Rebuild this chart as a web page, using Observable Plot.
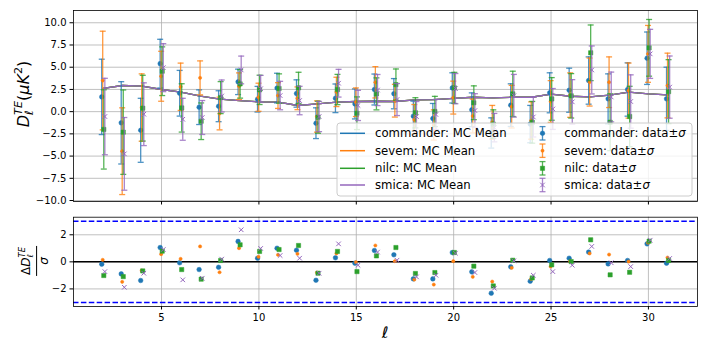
<!DOCTYPE html>
<html><head><meta charset="utf-8">
<script src="https://cdn.jsdelivr.net/npm/d3@7"></script>
<script src="https://cdn.jsdelivr.net/npm/@observablehq/plot@0.6"></script>
<style>
body{margin:0;background:#fff;}
#wrap{position:relative;width:708px;height:354px;font-family:"DejaVu Sans",sans-serif;color:#000;overflow:hidden;}
#wrap svg{position:absolute;left:0;overflow:visible;}
.rot{position:absolute;white-space:nowrap;transform:translate(-50%,-50%) rotate(-90deg);line-height:1;}
.ss{display:inline-flex;flex-direction:column;font-size:0.7em;line-height:1;vertical-align:0.6em;}
.frac{display:inline-flex;flex-direction:column;align-items:center;}
.frac .num{border-bottom:1px solid #000;padding:0 1px 1px 1px;}
.frac .den{padding-top:1px;}
</style></head><body><div id="wrap"></div>
<script>
// ---- data ----
const ells = [2,3,4,5,6,7,8,9,10,11,12,13,14,15,16,17,18,19,20,21,22,23,24,25,26,27,28,29,30,31];
const mcMean = [2.62,2.94,2.86,2.49,2.19,1.74,1.4,1.25,1.1,1.06,0.69,0.88,1.06,1.14,1.17,1.14,1.33,1.36,1.5,1.62,1.55,1.62,1.62,1.96,1.73,1.66,1.85,2.19,2.0,1.89];

const commanderVal = [1.66,-1.26,-2.1,5.4,2.07,0.5,0.61,3.35,1.4,2.65,2.04,-1.3,1.5,0.87,2.49,2.02,-0.51,-0.77,2.67,0.21,-2.4,0.73,-1.4,2.12,2.41,3.5,1.44,2.49,6.01,1.44];
const commanderSig = [4.24,4.63,3.6,2.74,2.57,1.95,1.74,1.43,1.44,1.67,1.54,1.73,1.61,1.69,1.74,1.7,1.69,1.69,1.7,1.9,1.7,2.4,2.1,2.25,2.48,2.66,2.81,3.0,2.95,3.56];
const commanderRes = [-0.17,-0.89,-1.38,1.06,-0.07,-0.57,-0.4,1.51,0.27,1.01,0.86,-1.36,0.3,-0.1,0.84,0.52,-1.26,-1.26,0.69,-0.74,-2.32,-0.37,-1.43,0.1,0.27,0.72,-0.15,0.1,1.33,-0.1];

const sevemVal = [3.5,-4.45,0.46,3.98,2.8,3.8,-0.21,2.86,1.62,1.81,1.5,-0.55,2.22,1.06,3.3,1.23,-0.9,-1.5,1.58,-0.49,-1.2,0.56,-1.0,1.14,1.86,3.33,3.31,2.37,6.5,2.94];
const sevemSig = [5.55,4.88,3.79,2.81,2.66,1.91,1.84,1.5,1.58,1.45,1.28,1.76,1.65,1.61,1.76,1.84,1.7,1.7,1.85,1.9,1.9,2.4,2.1,2.35,2.5,2.7,2.85,3.1,3.2,3.64];
const sevemRes = [0.15,-1.48,-0.64,0.57,0.22,1.14,-0.77,1.01,0.37,0.52,0.59,-0.79,0.62,-0.02,1.21,0.05,-1.31,-1.68,0.05,-1.11,-1.46,-0.44,-1.26,-0.35,0.05,0.62,0.54,0.02,1.41,0.32];

const nilcVal = [-2.0,-2.31,0.39,4.55,0.42,-1.08,1.58,3.12,2.45,2.6,2.67,-0.63,2.49,-0.18,2.0,3.04,-0.13,0.02,2.67,1.0,-1.4,2.0,-1.2,1.43,1.78,6.62,-1.19,-0.55,7.18,2.25];
const nilcSig = [4.46,4.75,3.7,2.74,2.72,2.06,1.8,1.6,1.65,1.65,1.76,1.8,1.7,1.84,1.8,1.76,1.7,1.7,1.75,1.9,1.6,2.55,2.35,2.4,2.5,3.13,3.2,3.4,3.19,3.6];
const nilcRes = [-1.01,-1.09,-0.67,0.79,-0.57,-1.28,0.1,1.26,0.77,0.91,1.21,-0.84,0.77,-0.72,0.44,1.06,-0.86,-0.79,0.69,-0.32,-1.78,0.12,-1.19,-0.22,0.02,1.63,-0.96,-0.77,1.53,0.1];

const smicaVal = [-0.55,-4.75,-0.29,4.95,-0.86,-0.66,1.76,4.69,2.58,1.81,1.25,-0.55,3.2,0.7,2.43,1.36,-0.56,-0.32,2.59,0.12,-1.8,1.79,-0.6,0.3,1.1,4.69,1.65,1.14,6.5,2.76];
const smicaSig = [4.3,4.09,3.53,2.7,2.36,1.91,1.8,1.56,1.5,1.6,1.6,1.7,1.56,1.7,1.75,1.8,1.7,1.7,1.7,1.9,1.6,2.4,2.25,2.3,2.5,2.7,2.8,3.0,2.76,3.5];
const smicaRes = [-0.72,-1.88,-0.84,0.91,-1.33,-1.21,0.2,2.37,0.99,0.47,0.27,-0.84,1.33,-0.25,0.72,0.12,-1.11,-0.99,0.64,-0.79,-1.95,0.07,-0.99,-0.72,-0.25,1.14,-0.07,-0.35,1.6,0.25];

const seriesNames = ["commander","sevem","nilc","smica"];
const topTicks = [-10,-7.5,-5,-2.5,0,2.5,5,7.5,10];
const resTicks = [-2,0,2];
const xTicks = [5,10,15,20,25,30];
const sigmaBounds = [-3,3];

// ---- styling ----
const colors = {commander:"#1f77b4", sevem:"#ff7f0e", nilc:"#2ca02c", smica:"#9467bd"};
const offsets = {commander:-0.07, sevem:-0.02, nilc:0.035, smica:0.09};
const markerSpec = {
  commander:{symbol:"circle", r:2.3, filled:true},
  sevem:{symbol:"circle", r:1.6, filled:true},
  nilc:{symbol:"square", r:2.4, filled:true},
  smica:{symbol:"times", r:2.2, filled:false}
};
const src = {
  commander:[commanderVal,commanderSig,commanderRes],
  sevem:[sevemVal,sevemSig,sevemRes],
  nilc:[nilcVal,nilcSig,nilcRes],
  smica:[smicaVal,smicaSig,smicaRes]
};
const cap = {draw(ctx){ ctx.moveTo(-3,0); ctx.lineTo(3,0); }};
const rows = {};
for (const s of seriesNames) {
  const [v, sg, rs] = src[s];
  rows[s] = ells.map((l,i)=>({l: l + offsets[s], v: v[i], lo: v[i]-sg[i], hi: v[i]+sg[i], res: rs[i]}));
}
const meanRows = ells.map((l,i)=>({l, m: mcMean[i]}));
const xDomain = [0.48, 32.52];
const gridStyle = {stroke:"#b0b0b0", strokeOpacity:1, strokeWidth:0.8};
const common = {fontFamily:"DejaVu Sans", fontSize:"10px", color:"black", background:"transparent", overflow:"visible"};

function markerMark(data, s, yField) {
  const m = markerSpec[s];
  return Plot.dot(data, {x:"l", y:yField, symbol:m.symbol, r:m.r,
    fill: m.filled ? colors[s] : "none", stroke: colors[s], strokeWidth: m.filled ? 0.5 : 1});
}

// ---- top panel ----
const topMarks = [
  Plot.gridX({ticks: xTicks, ...gridStyle}),
  Plot.gridY({ticks: topTicks, ...gridStyle}),
  Plot.axisX({ticks: xTicks, tickFormat: () => "", tickSize: 3.5, label: null}),
  Plot.axisY({ticks: topTicks, tickFormat: d3.format(".1f"), tickSize: 3.5, tickPadding: 3.5, label: null})
];
for (const s of seriesNames) topMarks.push(Plot.line(meanRows, {x:"l", y:"m", stroke: colors[s], strokeWidth:1.3}));
for (const s of seriesNames) {
  topMarks.push(Plot.ruleX(rows[s], {x:"l", y1:"lo", y2:"hi", stroke: colors[s], strokeOpacity:0.8, strokeWidth:1.3}));
  topMarks.push(Plot.dot(rows[s], {x:"l", y:"lo", symbol: cap, fill:"none", stroke: colors[s], strokeOpacity:0.8, strokeWidth:1.3}));
  topMarks.push(Plot.dot(rows[s], {x:"l", y:"hi", symbol: cap, fill:"none", stroke: colors[s], strokeOpacity:0.8, strokeWidth:1.3}));
  topMarks.push(markerMark(rows[s], s, "v"));
}
topMarks.push(Plot.frame({stroke:"black", strokeWidth:0.8}));

const topSvg = Plot.plot({
  width:708, height:205, marginLeft:73, marginRight:11, marginTop:10, marginBottom:4,
  x:{domain:xDomain}, y:{domain:[-10.11, 11.38]},
  style: common,
  marks: topMarks
});
topSvg.style.top = "0px";

// ---- bottom panel ----
const botMarks = [
  Plot.gridX({ticks: xTicks, ...gridStyle}),
  Plot.gridY({ticks: resTicks, ...gridStyle}),
  Plot.axisX({ticks: xTicks, tickSize: 3.5, tickPadding: 3.5, label: null}),
  Plot.axisY({ticks: resTicks, tickFormat: d3.format("d"), tickSize: 3.5, tickPadding: 3.5, label: null}),
  Plot.ruleY(sigmaBounds, {stroke:"#0000ff", strokeWidth:1.5, strokeDasharray:"5.5,2.4"}),
  Plot.ruleY([0], {stroke:"black", strokeWidth:1.5})
];
for (const s of seriesNames) botMarks.push(markerMark(rows[s], s, "res"));
botMarks.push(Plot.frame({stroke:"black", strokeWidth:0.8}));

const botSvg = Plot.plot({
  width:708, height:149, marginLeft:73, marginRight:11, marginTop:11.7, marginBottom:48,
  x:{domain:xDomain}, y:{domain:[-3.3, 3.3]},
  style: common,
  marks: botMarks
});
botSvg.style.top = "205px";

const wrap = document.getElementById("wrap");
wrap.appendChild(topSvg);
wrap.appendChild(botSvg);

// ---- legend (inside top panel, lower right) ----
const lg = d3.select(topSvg).append("g").attr("font-family","DejaVu Sans").attr("font-size",11.7)
  .attr("fill","black").attr("text-anchor","start");
lg.append("rect").attr("x",337).attr("y",123).attr("width",355).attr("height",73).attr("rx",3)
  .attr("fill","white").attr("fill-opacity",0.8).attr("stroke","#cccccc").attr("stroke-width",1);
const rowY = [133.3,150.7,168.3,185];
const symMap = {circle:d3.symbolCircle, square:d3.symbolSquare, times:d3.symbolTimes};
seriesNames.forEach((s,i)=>{
  const y = rowY[i], c = colors[s];
  lg.append("line").attr("x1",340).attr("x2",365).attr("y1",y).attr("y2",y).attr("stroke",c).attr("stroke-width",1.5);
  lg.append("text").attr("x",375).attr("y",y).attr("dy","0.35em").text(`${s}: MC Mean`);
  const ix = 542.5;
  lg.append("line").attr("x1",ix).attr("x2",ix).attr("y1",y-6.7).attr("y2",y+6.7).attr("stroke",c).attr("stroke-opacity",0.8).attr("stroke-width",1.3);
  lg.append("line").attr("x1",ix-3).attr("x2",ix+3).attr("y1",y-6.7).attr("y2",y-6.7).attr("stroke",c).attr("stroke-opacity",0.8).attr("stroke-width",1.3);
  lg.append("line").attr("x1",ix-3).attr("x2",ix+3).attr("y1",y+6.7).attr("y2",y+6.7).attr("stroke",c).attr("stroke-opacity",0.8).attr("stroke-width",1.3);
  const m = markerSpec[s];
  lg.append("path").attr("transform",`translate(${ix},${y})`)
    .attr("d", d3.symbol(symMap[m.symbol], Math.PI*m.r*m.r)())
    .attr("fill", m.filled ? c : "none").attr("stroke", c).attr("stroke-width", m.filled ? 0.5 : 1);
  const t = lg.append("text").attr("x",564.3).attr("y",y).attr("dy","0.35em");
  t.append("tspan").text(`${s}: data±`);
  t.append("tspan").attr("font-style","italic").text("σ");
});

// ---- axis labels (HTML, real text) ----
const yl1 = document.createElement("div");
yl1.className = "rot";
yl1.style.cssText += "left:24px;top:94px;font-size:16px;";
yl1.innerHTML = '<i>D</i><span class="ss"><i>TE</i><i>ℓ</i></span>(<i>μK</i><sup style="font-size:0.7em">2</sup>)';
wrap.appendChild(yl1);

const yl2 = document.createElement("div");
yl2.className = "rot";
yl2.style.cssText += "left:34px;top:261px;font-size:12px;";
yl2.innerHTML = '<span class="frac"><span class="num">Δ<i>D</i><span class="ss"><i>TE</i><i>ℓ</i></span></span><span class="den"><i>σ</i></span></span>';
wrap.appendChild(yl2);

const xl = document.createElement("div");
xl.style.cssText = "position:absolute;left:385px;top:333px;transform:translate(-50%,-50%);font-size:16px;font-style:italic;line-height:1;";
xl.textContent = "ℓ";
wrap.appendChild(xl);
</script>
</body></html>
